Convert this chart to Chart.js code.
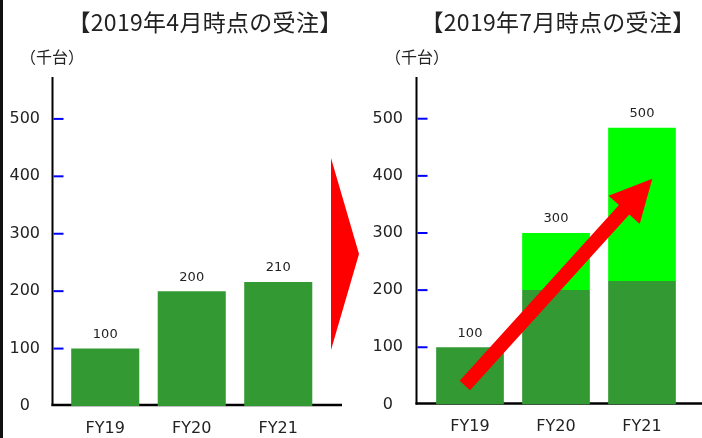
<!DOCTYPE html>
<html>
<head>
<meta charset="utf-8">
<script src="https://cdn.jsdelivr.net/npm/chart.js@4.4.1/dist/chart.umd.min.js"></script>
<style>
html, body { margin: 0; padding: 0; background: #fff; }
#wrap { position: relative; width: 702px; height: 438px; overflow: hidden; }
#border { position: absolute; left: 0; top: 0; width: 3px; height: 438px; background: #111; }
canvas { position: absolute; top: 0; }
.title, .unit { position: absolute; color: #222; white-space: nowrap; transform: translateX(-50%); line-height: 1; font-family: "Noto Sans CJK JP", sans-serif; }
.title { font-size: 23px; top: 10px; letter-spacing: 0.3px; }
.unit { font-size: 16px; top: 48px; }
#turn { position: absolute; left: 0; top: 0; }
</style>
</head>
<body>
<div id="wrap">
  <div id="border"></div>
  <canvas id="aprilChart" width="350" height="438" style="left:0"></canvas>
  <canvas id="julyChart" width="352" height="438" style="left:350px"></canvas>
  <div class="title" style="left:205px">【2019年4月時点の受注】</div>
  <div class="title" style="left:558px">【2019年7月時点の受注】</div>
  <div class="unit" style="left:52px">（千台）</div>
  <div class="unit" style="left:417px">（千台）</div>
  <svg id="turn" width="702" height="438"><polygon points="331,158 359,254 331,350" fill="#ff0000"/></svg>
</div>
<script>
const categories = ['FY19', 'FY20', 'FY21'];
const aprilOrders = [100, 200, 216];
const aprilLabels = ['100', '200', '210'];
const julyBase = [100, 200, 216];
const julyAdded = [0, 100, 268];
const julyLabels = ['100', '300', '500'];
const yTicks = [0, 100, 200, 300, 400, 500];
const yMax = 573;
const arrowFrom = [-0.06, 33];
const arrowTo = [2.12, 395];

const darkGreen = '#339933';
const lightGreen = '#00ff00';

// axis lines + blue tick marks, drawn under the bars
const axesPlugin = {
    id: 'axes',
    beforeDatasetsDraw(chart, args, opts) {
        const { ctx, chartArea, scales: { y } } = chart;
        const x0 = chartArea.left - opts.gap;
        const base = y.getPixelForValue(0);
        ctx.save();
        ctx.strokeStyle = '#000';
        ctx.lineWidth = 2;
        ctx.beginPath();
        ctx.moveTo(x0, chartArea.top);
        ctx.lineTo(x0, base);
        ctx.stroke();
        ctx.lineWidth = 2.5;
        ctx.beginPath();
        ctx.moveTo(x0 - 1, base - 1);
        ctx.lineTo(chartArea.right + opts.extendRight, base - 1);
        ctx.stroke();
        ctx.strokeStyle = '#0000ff';
        ctx.lineWidth = 2;
        yTicks.forEach(v => {
            if (v === 0) return;
            const py = y.getPixelForValue(v);
            ctx.beginPath();
            ctx.moveTo(x0 + 1, py);
            ctx.lineTo(x0 + 11, py);
            ctx.stroke();
        });
        ctx.restore();
    }
};

// value labels above each stack
const valueLabelPlugin = {
    id: 'valueLabels',
    afterDatasetsDraw(chart, args, opts) {
        const { ctx } = chart;
        const meta = chart.getDatasetMeta(chart.data.datasets.length - 1);
        ctx.save();
        ctx.font = '13px "DejaVu Sans"';
        ctx.fillStyle = '#222';
        ctx.textAlign = 'center';
        ctx.textBaseline = 'middle';
        meta.data.forEach((bar, i) => {
            ctx.fillText(opts.labels[i], bar.x, bar.y - 14);
        });
        ctx.restore();
    }
};

// red growth arrow in the July chart
const arrowPlugin = {
    id: 'growthArrow',
    afterDatasetsDraw(chart) {
        const { ctx, scales: { x, y } } = chart;
        const tx = x.getPixelForValue(arrowFrom[0]), ty = y.getPixelForValue(arrowFrom[1]);
        const px = x.getPixelForValue(arrowTo[0]), py = y.getPixelForValue(arrowTo[1]);
        const len = Math.hypot(px - tx, py - ty);
        const ux = (px - tx) / len, uy = (py - ty) / len;
        const nx = -uy, ny = ux;
        const headLen = 42, headHalf = 21, shaftHalf = 7;
        const bx = px - ux * headLen, by = py - uy * headLen;
        ctx.save();
        ctx.fillStyle = '#ff0000';
        ctx.beginPath();
        ctx.moveTo(tx + nx * shaftHalf, ty + ny * shaftHalf);
        ctx.lineTo(bx + nx * shaftHalf, by + ny * shaftHalf);
        ctx.lineTo(bx + nx * headHalf, by + ny * headHalf);
        ctx.lineTo(px, py);
        ctx.lineTo(bx - nx * headHalf, by - ny * headHalf);
        ctx.lineTo(bx - nx * shaftHalf, by - ny * shaftHalf);
        ctx.lineTo(tx - nx * shaftHalf, ty - ny * shaftHalf);
        ctx.closePath();
        ctx.fill();
        ctx.restore();
    }
};

function makeChart(id, datasets, labels, yWidth, tickPad, padRight, gap, extendRight, extra) {
    return new Chart(document.getElementById(id), {
        type: 'bar',
        data: { labels: categories, datasets: datasets },
        options: {
            responsive: false,
            animation: false,
            devicePixelRatio: 1,
            layout: { padding: { top: 77, left: 0, right: padRight, bottom: 0 } },
            plugins: {
                legend: { display: false },
                tooltip: { enabled: false },
                axes: { gap: gap, extendRight: extendRight },
                valueLabels: { labels: labels }
            },
            scales: {
                x: {
                    stacked: true,
                    grid: { display: false, drawTicks: false },
                    border: { display: false },
                    ticks: { padding: 13, color: '#222', font: { family: 'DejaVu Sans', size: 16 } },
                    afterFit: s => { s.height = 32; }
                },
                y: {
                    stacked: true,
                    min: 0,
                    max: yMax,
                    grid: { display: false, drawTicks: false },
                    border: { display: false },
                    afterBuildTicks: s => { s.ticks = yTicks.map(v => ({ value: v })); },
                    ticks: { padding: tickPad, crossAlign: 'center', color: '#222', font: { family: 'DejaVu Sans', size: 16 } },
                    afterFit: s => { s.width = yWidth; }
                }
            }
        },
        plugins: [axesPlugin, valueLabelPlugin].concat(extra)
    });
}

const barOpts = { barPercentage: 0.787, categoryPercentage: 1, borderWidth: 0 };

makeChart('aprilChart',
    [Object.assign({ data: aprilOrders, backgroundColor: darkGreen }, barOpts)],
    aprilLabels, 62, 22, 28.5, 9.5, 20.5, []);

makeChart('julyChart',
    [Object.assign({ data: julyBase, backgroundColor: darkGreen }, barOpts),
     Object.assign({ data: julyAdded, backgroundColor: lightGreen }, barOpts)],
    julyLabels, 77, 24, 17, 10.5, 20, [arrowPlugin]);
</script>
</body>
</html>
